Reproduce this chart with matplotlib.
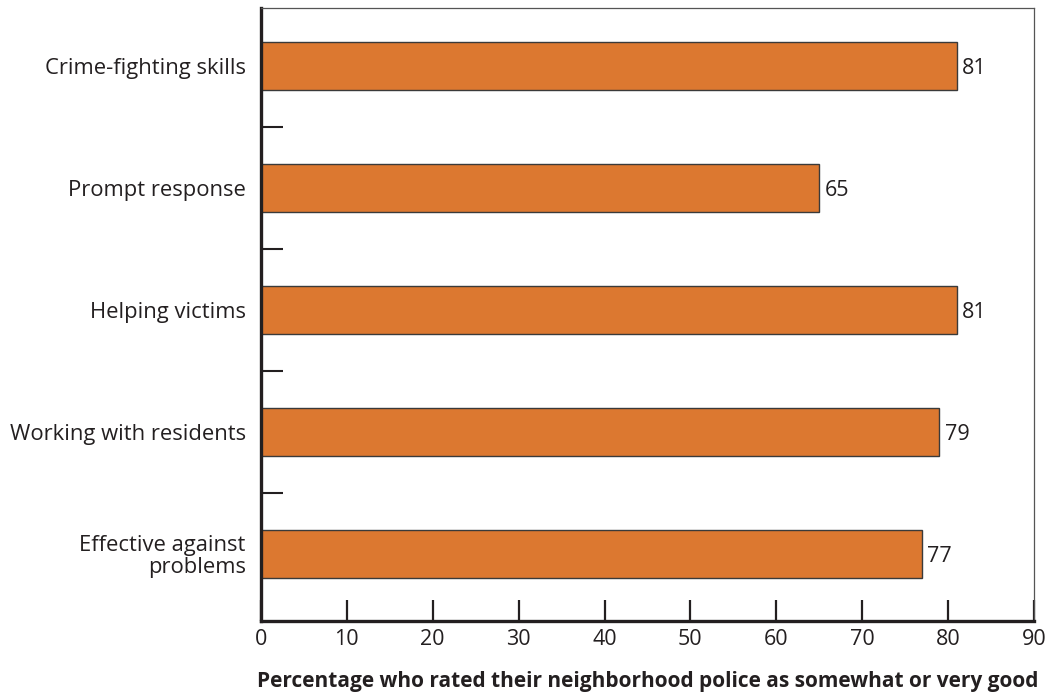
import matplotlib
matplotlib.use("Agg")
import matplotlib.pyplot as plt
import numpy as np

categories = [
    "Crime-fighting skills",
    "Prompt response",
    "Helping victims",
    "Working with residents",
    "Effective against\nproblems",
]
values = [81, 65, 81, 79, 77]
x_ticks = [0, 10, 20, 30, 40, 50, 60, 70, 80, 90]
x_label = "Percentage who rated their neighborhood police as somewhat or very good"

plt.rcParams["font.family"] = ["Open Sans", "DejaVu Sans"]
text_color = "#231f20"
bar_color = "#dc7830"

fig = plt.figure(figsize=(10.48, 6.96), dpi=100)
ax = fig.add_axes([0.249, 0.1078, 0.7376, 0.8807])

pos = np.arange(len(categories))
ax.barh(pos, values, height=0.39, color=bar_color, edgecolor="#3a3a3a", linewidth=1.0)

for p, v in zip(pos, values):
    ax.text(v + 0.6, p + 0.02, f"{v}", va="center", ha="left", fontsize=15.5, color=text_color)

ax.set_xlim(0, 90)
ax.set_ylim(4.55, -0.475)
ax.set_xticks(x_ticks)
ax.set_xticklabels([str(t) for t in x_ticks], fontsize=15.5, color=text_color)
ax.set_yticks(pos)
ax.set_yticklabels(categories, fontsize=15.8, color=text_color, linespacing=1.05)
ax.set_yticks(pos[:-1] + 0.5, minor=True)

ax.tick_params(axis="y", which="major", length=0, pad=11)
ax.tick_params(axis="y", which="minor", direction="in", length=16, width=1.5, color=text_color)
ax.tick_params(axis="x", which="major", direction="in", length=15, width=1.6, color=text_color, pad=6)

for side in ("left", "bottom"):
    ax.spines[side].set_linewidth(2.4)
    ax.spines[side].set_color(text_color)
for side in ("top", "right"):
    ax.spines[side].set_linewidth(0.9)
    ax.spines[side].set_color("#555555")

ax.set_xlabel(x_label, fontsize=15, fontweight="bold", color=text_color, labelpad=15)

fig.savefig("out.png", dpi=100)
